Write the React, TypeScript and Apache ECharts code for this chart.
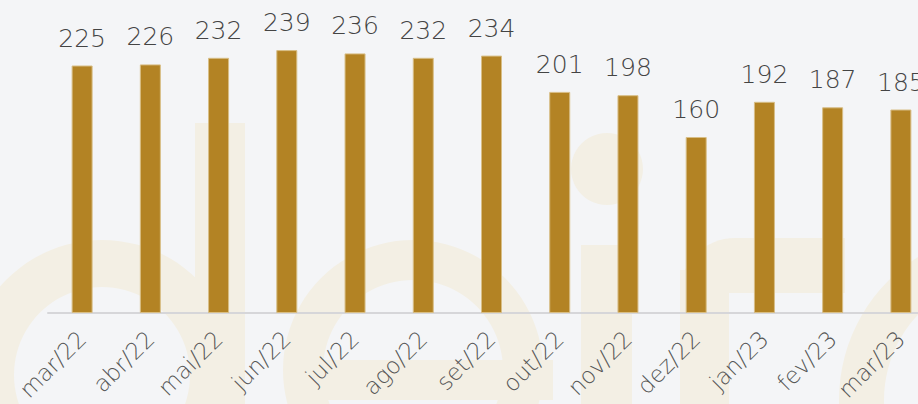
import React, { useEffect, useRef } from "react";
import * as echarts from "echarts";

const categories = ["mar/22", "abr/22", "mai/22", "jun/22", "jul/22", "ago/22", "set/22", "out/22", "nov/22", "dez/22", "jan/23", "fev/23", "mar/23"];
const values = [225, 226, 232, 239, 236, 232, 234, 201, 198, 160, 192, 187, 185];

const WM = "#F3EFE4";

export default function App() {
  const ref = useRef<HTMLDivElement>(null);
  useEffect(() => {
    if (!ref.current) return;
    const chart = echarts.init(ref.current, null, { renderer: "svg" });
    chart.setOption({
      animation: false,
      backgroundColor: "#F4F5F7",
      graphic: [
        { type: "ring", z: -10, silent: true, shape: { cx: 102, cy: 375, r: 135, r0: 88 }, style: { fill: WM } },
        { type: "rect", z: -10, silent: true, shape: { x: 195, y: 123, width: 50, height: 290 }, style: { fill: WM } },
        { type: "ring", z: -10, silent: true, shape: { cx: 413, cy: 370, r: 130, r0: 90 }, style: { fill: WM } },
        { type: "rect", z: -10, silent: true, shape: { x: 323, y: 360, width: 230, height: 40 }, style: { fill: WM } },
        { type: "circle", z: -10, silent: true, shape: { cx: 607, cy: 169, r: 36 }, style: { fill: WM } },
        { type: "rect", z: -10, silent: true, shape: { x: 581, y: 245, width: 51, height: 170 }, style: { fill: WM } },
        { type: "rect", z: -10, silent: true, shape: { x: 680, y: 238, width: 165, height: 55, r: [55, 0, 0, 0] }, style: { fill: WM } },
        { type: "rect", z: -10, silent: true, shape: { x: 680, y: 270, width: 49, height: 140 }, style: { fill: WM } },
        { type: "ring", z: -10, silent: true, shape: { cx: 1008, cy: 400, r: 169, r0: 124 }, style: { fill: WM } },
      ],
      grid: { left: 48, right: 0, top: 38, bottom: 91, containLabel: false },
      xAxis: {
        type: "category",
        data: categories,
        axisLine: { show: true, lineStyle: { color: "#D6D6D9", width: 2 } },
        axisTick: { show: false },
        axisLabel: {
          rotate: 45,
          interval: 0,
          margin: 22,
          color: "#555555",
          fontSize: 23,
          fontFamily: "DejaVu Sans",
          fontWeight: 200,
        },
      },
      yAxis: { type: "value", min: 0, max: 250, show: false, splitLine: { show: false } },
      series: [
        {
          type: "bar",
          data: values,
          barWidth: 21,
          z: 5,
          itemStyle: { color: "#B38324", borderColor: "#D8BE86", borderWidth: 1 },
          label: {
            show: true,
            position: "top",
            distance: 15,
            color: "#444444",
            fontSize: 25,
            fontFamily: "DejaVu Sans",
            fontWeight: 200,
          },
        },
      ],
    });
    return () => chart.dispose();
  }, []);
  return (
    <div style={{ position: "fixed", left: 0, top: 0, width: 918, height: 404, overflow: "hidden" }}>
      <div ref={ref} style={{ width: 935, height: 404 }} />
    </div>
  );
}
